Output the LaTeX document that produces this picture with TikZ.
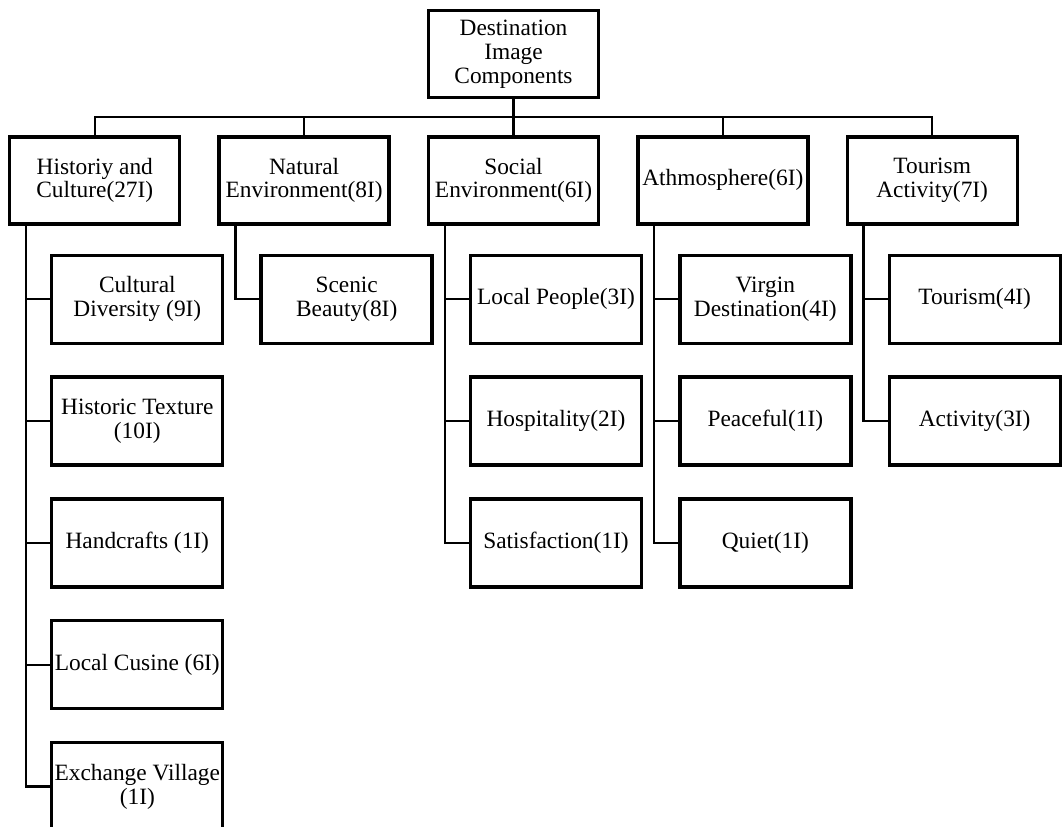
\documentclass[tikz,border=0pt]{standalone}
\usepackage{fontspec}
\setmainfont{Liberation Serif}
\usetikzlibrary{
    positioning
}

\begin{document}
\begin{tikzpicture}[
    node distance=0.72cm,
    box/.style={
        draw,
        line width=1.9pt,
        minimum width=3.40cm,
        minimum height=1.74cm,
        inner xsep=0pt,
        align=center,
        font=\fontsize{13.3}{13.6}\selectfont
    },
    item/.style={
        box,
        minimum width=3.42cm,
        minimum height=1.76cm
    },
    link/.style={line width=1.3pt}
]
\useasboundingbox (0,0) rectangle (21.26,-16.54);

\node[box] (root) at (10.27,-1.08)
{Destination\\Image\\Components};

% first level
\node[box, below=0.72cm of root] (social)
{Social\\Environment(6I)};

\node[box, left=of social] (natural)
{Natural\\Environment(8I)};

\node[box, left=of natural] (history)
{Historiy and\\Culture(27I)};

\node[box, right=of social] (atmos)
{Athmosphere(6I)};

\node[box, right=of atmos] (tourism)
{Tourism\\Activity(7I)};

% second level
\node[item, below=0.56cm of history.south west, anchor=north west, xshift=0.84cm] (cultural)
{Cultural\\Diversity (9I)};
\node[item, below=0.61cm of cultural] (texture)
{Historic Texture\\(10I)};
\node[item, below=0.61cm of texture] (handcraft)
{Handcrafts (1I)};
\node[item, below=0.61cm of handcraft] (cusine)
{Local Cusine (6I)};
\node[item, below=0.61cm of cusine] (exchange)
{Exchange Village\\(1I)};

\node[item, below=0.56cm of natural.south west, anchor=north west, xshift=0.84cm] (scenic)
{Scenic\\Beauty(8I)};

\node[item, below=0.56cm of social.south west, anchor=north west, xshift=0.84cm] (people)
{Local People(3I)};
\node[item, below=0.61cm of people] (hospital)
{Hospitality(2I)};
\node[item, below=0.61cm of hospital] (satisfy)
{Satisfaction(1I)};

\node[item, below=0.56cm of atmos.south west, anchor=north west, xshift=0.84cm] (virgin)
{Virgin\\Destination(4I)};
\node[item, below=0.61cm of virgin] (peaceful)
{Peaceful(1I)};
\node[item, below=0.61cm of peaceful] (quiet)
{Quiet(1I)};

\node[item, below=0.56cm of tourism.south west, anchor=north west, xshift=0.84cm] (tour)
{Tourism(4I)};
\node[item, below=0.61cm of tour] (activity)
{Activity(3I)};

% bus and trunks
\coordinate[below=0.36cm of root] (bus);
\coordinate (histtrunk) at ([xshift=0.36cm]history.south west);
\coordinate (nattrunk) at ([xshift=0.36cm]natural.south west);
\coordinate (soctrunk) at ([xshift=0.36cm]social.south west);
\coordinate (atmtrunk) at ([xshift=0.36cm]atmos.south west);
\coordinate (tourtrunk) at ([xshift=0.36cm]tourism.south west);

\draw[link] (root) -- (social);
\draw[link] (history.north) |- (bus) -| (tourism.north);
\draw[link] (natural.north) -- (natural.north |- bus);
\draw[link] (atmos.north) -- (atmos.north |- bus);

\draw[link] (histtrunk) |- (exchange.west);
\draw[link] (cultural.west) -- (cultural.west -| histtrunk);
\draw[link] (texture.west) -- (texture.west -| histtrunk);
\draw[link] (handcraft.west) -- (handcraft.west -| histtrunk);
\draw[link] (cusine.west) -- (cusine.west -| histtrunk);

\draw[link] (nattrunk) |- (scenic.west);

\draw[link] (soctrunk) |- (satisfy.west);
\draw[link] (people.west) -- (people.west -| soctrunk);
\draw[link] (hospital.west) -- (hospital.west -| soctrunk);

\draw[link] (atmtrunk) |- (quiet.west);
\draw[link] (virgin.west) -- (virgin.west -| atmtrunk);
\draw[link] (peaceful.west) -- (peaceful.west -| atmtrunk);

\draw[link] (tourtrunk) |- (activity.west);
\draw[link] (tour.west) -- (tour.west -| tourtrunk);

\end{tikzpicture}
\end{document}
